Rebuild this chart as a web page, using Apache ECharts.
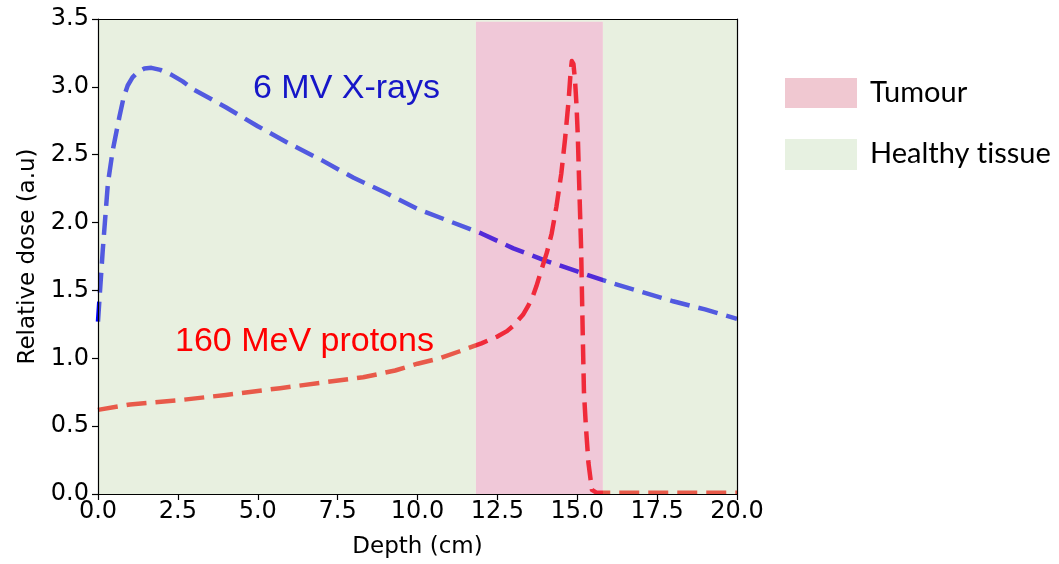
<!DOCTYPE html>
<html>
<head>
<meta charset="utf-8">
<script src="https://cdn.jsdelivr.net/npm/echarts@6/dist/echarts.min.js"></script>
<style>
  html, body { margin: 0; padding: 0; background: #fff; }
  #chart { width: 1059px; height: 564px; }
</style>
</head>
<body>
<div id="chart"></div>
<script>
// depth in cm, dose in arbitrary units
const xrayDepth = [0, 0.05, 0.15, 0.31, 0.46, 0.67, 0.8, 0.93, 1.08, 1.25, 1.45, 1.67, 1.95, 2.29, 2.65, 3.0, 4.0, 5.0, 6.0, 7.0, 8.0, 9.0, 10.0, 11.0, 12.0, 13.0, 14.0, 15.0, 16.0, 17.0, 18.0, 19.0, 20.0];
const xrayDose = [1.27, 1.45, 1.80, 2.29, 2.53, 2.78, 2.92, 3.01, 3.07, 3.11, 3.135, 3.14, 3.125, 3.09, 3.04, 2.98, 2.85, 2.71, 2.58, 2.46, 2.33, 2.22, 2.10, 2.01, 1.92, 1.81, 1.72, 1.64, 1.56, 1.49, 1.42, 1.36, 1.29];

const protonDepth = [0, 1, 2.5, 4, 5.7, 7, 8.3, 9.3, 10, 10.7, 11.3, 12, 12.5, 12.8, 13, 13.3, 13.45, 13.6, 13.72, 13.85, 14.05, 14.2, 14.35, 14.5, 14.62, 14.73, 14.79, 14.83, 14.88, 14.93, 14.98, 15.02, 15.06, 15.12, 15.17, 15.21, 15.27, 15.35, 15.46, 15.6, 17, 20];
const protonDose = [0.62, 0.66, 0.69, 0.73, 0.78, 0.82, 0.86, 0.91, 0.96, 1.0, 1.05, 1.11, 1.16, 1.20, 1.24, 1.32, 1.38, 1.45, 1.53, 1.63, 1.78, 1.92, 2.12, 2.36, 2.62, 2.90, 3.10, 3.19, 3.17, 3.05, 2.85, 2.62, 2.29, 1.82, 1.20, 0.75, 0.50, 0.23, 0.03, 0.01, 0.01, 0.01];

const tumourRange = [11.83, 15.8];
const tumourTop = 3.48;
const xTicks = [0, 2.5, 5, 7.5, 10, 12.5, 15, 17.5, 20];
const yTicks = [0, 0.5, 1, 1.5, 2, 2.5, 3, 3.5];

const zip = (a, b) => a.map((v, i) => [v, b[i]]);

const tickFont = {fontFamily: 'DejaVu Sans', fontSize: 24, color: '#000'};
const nameFont = {fontFamily: 'DejaVu Sans', fontSize: 23, color: '#000'};
// translucent washes laid over the curves
const healthyWash = 'rgba(198,219,180,0.41)';
const tumourWash = 'rgba(216,110,153,0.38)';

const xMax = xTicks[xTicks.length - 1], yMax = yTicks[yTicks.length - 1];

let myChart = echarts.init(document.getElementById('chart'));
myChart.setOption({
    animation: false,
    grid: {left: 98, right: 322, top: 19, bottom: 70, outerBoundsMode: 'none'},
    xAxis: [{
        type: 'value',
        min: xTicks[0], max: xMax, interval: 2.5,
        z: 20,
        name: 'Depth (cm)',
        nameLocation: 'middle',
        nameGap: 42,
        nameTextStyle: nameFont,
        axisLine: {onZero: false, lineStyle: {color: '#000', width: 1.2}},
        axisTick: {length: 6, lineStyle: {color: '#000', width: 1.2}},
        axisLabel: Object.assign({margin: 6, formatter: v => v.toFixed(1)}, tickFont),
        splitLine: {show: false}
    }, {
        type: 'value', position: 'top', min: xTicks[0], max: xMax, z: 20,
        axisLine: {onZero: false, lineStyle: {color: '#000', width: 1.2}},
        axisTick: {show: false}, axisLabel: {show: false}, splitLine: {show: false}
    }],
    yAxis: [{
        type: 'value',
        min: yTicks[0], max: yMax, interval: 0.5,
        z: 20,
        name: 'Relative dose (a.u)',
        nameLocation: 'middle',
        nameGap: 57,
        nameTextStyle: nameFont,
        axisLine: {onZero: false, lineStyle: {color: '#000', width: 1.2}},
        axisTick: {length: 6, lineStyle: {color: '#000', width: 1.2}},
        axisLabel: Object.assign({margin: 9, formatter: v => v.toFixed(1)}, tickFont),
        splitLine: {show: false}
    }, {
        type: 'value', position: 'right', min: yTicks[0], max: yMax, z: 20,
        axisLine: {onZero: false, lineStyle: {color: '#000', width: 1.2}},
        axisTick: {show: false}, axisLabel: {show: false}, splitLine: {show: false}
    }],
    series: [
        {
            name: '6 MV X-rays',
            type: 'line',
            z: 3,
            data: zip(xrayDepth, xrayDose),
            symbol: 'none',
            lineStyle: {color: '#0000ff', width: 4.5, type: [20, 9], cap: 'butt', join: 'round'}
        },
        {
            name: '160 MeV protons',
            type: 'line',
            z: 3,
            data: zip(protonDepth, protonDose),
            symbol: 'none',
            lineStyle: {color: '#ff0000', width: 4.5, type: [20, 9], cap: 'butt', join: 'round'}
        },
        {
            // washes for healthy tissue and tumour, drawn over the curves
            type: 'line',
            data: [],
            z: 10,
            markArea: {
                silent: true,
                z: 10,
                data: [
                    [{xAxis: 0, yAxis: 0, itemStyle: {color: healthyWash}}, {xAxis: tumourRange[0], yAxis: yMax}],
                    [{xAxis: tumourRange[1], yAxis: 0, itemStyle: {color: healthyWash}}, {xAxis: xMax, yAxis: yMax}],
                    [{xAxis: tumourRange[0], yAxis: tumourTop, itemStyle: {color: healthyWash}}, {xAxis: tumourRange[1], yAxis: yMax}],
                    [{xAxis: tumourRange[0], yAxis: 0, itemStyle: {color: tumourWash}}, {xAxis: tumourRange[1], yAxis: tumourTop}]
                ]
            }
        }
    ],
    graphic: [
        {type: 'text', left: 253, top: 72, z: 30,
            style: {text: '6 MV X-rays', fill: '#1616c8', font: '34px "Liberation Sans"'}},
        {type: 'text', left: 175, top: 325, z: 30,
            style: {text: '160 MeV protons', fill: '#ff0000', font: '34px "Liberation Sans"'}},
        {type: 'rect', shape: {x: 785, y: 78, width: 72, height: 30}, style: {fill: '#f0c8d1'}},
        {type: 'rect', shape: {x: 785, y: 139, width: 72, height: 31}, style: {fill: '#e7f1e1'}},
        {type: 'text', x: 870, y: 93,
            style: {text: 'Tumour', fill: '#000', font: '29px Lato', verticalAlign: 'middle'}},
        {type: 'text', x: 870, y: 154,
            style: {text: 'Healthy t\u200Cissue', fill: '#000', font: '29px Lato', verticalAlign: 'middle'}}
    ]
});
</script>
</body>
</html>
